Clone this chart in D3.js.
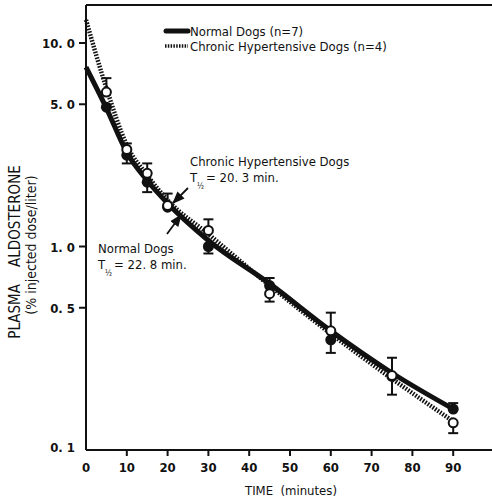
<!DOCTYPE html>
<html>
<head>
<meta charset="utf-8">
<script src="https://cdn.jsdelivr.net/npm/d3@7"></script>
<style>
  body { margin: 0; background: #fff; }
  text { font-family: "Liberation Sans Narrow", "DejaVu Sans Condensed", "Arial Narrow", sans-serif; fill: #111; }
</style>
</head>
<body>
<script>
// plasma aldosterone disappearance, normal vs chronic hypertensive dogs

const w = 492;
const h = 500;

const times = [5, 10, 15, 20, 30, 45, 60, 75, 90];

// mean values (% injected dose / liter)
const normalMeans = [4.84, 2.81, 2.07, 1.56, 1.0, 0.643, 0.348, 0.23, 0.159];
const hyperMeans  = [5.74, 3.0, 2.29, 1.59, 1.2, 0.586, 0.385, 0.232, 0.136];

// error bar ends (null = not drawn)
const normalErrHi = [null, null, null, null, null, 0.70, null, null, 0.17];
const normalErrLo = [null, 2.56, 1.85, null, 0.924, null, 0.30, null, null];
const hyperErrHi  = [6.72, 3.21, 2.56, 1.82, 1.36, null, 0.473, 0.284, null];
const hyperErrLo  = [null, null, null, null, null, 0.536, null, 0.187, 0.121];

// fitted curves
const curveTimes  = [0, 5, 10, 15, 20, 30, 45, 60, 75, 91];
const normalCurve = [7.62, 4.79, 2.90, 2.11, 1.63, 1.07, 0.657, 0.385, 0.239, 0.155];
const hyperCurve  = [13.0, 6.0, 3.15, 2.24, 1.69, 1.15, 0.643, 0.373, 0.224, 0.134];

const xTicks = [0, 10, 20, 30, 40, 50, 60, 70, 80, 90];
const yTicks = [10, 5, 1, 0.5, 0.1];
const yTickLabels = ["10. 0", "5. 0", "1. 0", "0. 5", "0. 1"];

const xScale = d3.scaleLinear()
    .domain([0, 100])
    .range([86, 494]);

const yScale = d3.scaleLog()
    .domain([0.1, 10])
    .range([450, 43]);

const svg = d3.select("body")
  .append("svg")
    .attr("width", w)
    .attr("height", h);

svg.append("rect")
    .attr("width", w)
    .attr("height", h)
    .attr("fill", "#fff");

// frame: left axis, top line, bottom axis
const x0 = xScale(0);
const yBottom = yScale(0.1);
const yTop = 5;

svg.append("line")
    .attr("x1", x0).attr("x2", x0)
    .attr("y1", yTop).attr("y2", yBottom)
    .attr("stroke", "#111").attr("stroke-width", 2);

svg.append("line")
    .attr("x1", x0).attr("x2", w)
    .attr("y1", yTop).attr("y2", yTop)
    .attr("stroke", "#111").attr("stroke-width", 2);

svg.append("line")
    .attr("x1", x0).attr("x2", w)
    .attr("y1", yBottom).attr("y2", yBottom)
    .attr("stroke", "#111").attr("stroke-width", 2);

// x ticks
const xt = svg.append("g").attr("class", "xAxis");
xt.selectAll("line")
    .data(xTicks.filter(d => d > 0))
  .enter().append("line")
    .attr("x1", d => xScale(d)).attr("x2", d => xScale(d))
    .attr("y1", yBottom).attr("y2", yBottom + 6)
    .attr("stroke", "#111").attr("stroke-width", 2);

xt.selectAll("text")
    .data(xTicks)
  .enter().append("text")
    .attr("x", d => xScale(d))
    .attr("y", 472)
    .attr("text-anchor", "middle")
    .attr("font-size", 13)
    .attr("font-weight", "bold")
    .text(d => d);

// y ticks
const yt = svg.append("g").attr("class", "yAxis");
yt.selectAll("line")
    .data(yTicks.filter(d => d > 0.1))
  .enter().append("line")
    .attr("x1", x0 - 7).attr("x2", x0)
    .attr("y1", d => yScale(d)).attr("y2", d => yScale(d))
    .attr("stroke", "#111").attr("stroke-width", 2);

yt.selectAll("text")
    .data(yTicks)
  .enter().append("text")
    .attr("x", x0 - 11)
    .attr("y", d => yScale(d) + (d === 0.1 ? 2 : 5))
    .attr("text-anchor", "end")
    .attr("font-size", 13)
    .attr("font-weight", "bold")
    .text((d, i) => yTickLabels[i]);

// axis titles
svg.append("text")
    .attr("x", 291)
    .attr("y", 495)
    .attr("text-anchor", "middle")
    .attr("font-size", 13)
    .attr("xml:space", "preserve")
    .text("TIME  (minutes)");

svg.append("text")
    .attr("transform", "translate(20, 252) rotate(-90)")
    .attr("text-anchor", "middle")
    .attr("font-size", 15)
    .attr("xml:space", "preserve")
    .text("PLASMA    ALDOSTERONE");

svg.append("text")
    .attr("transform", "translate(36, 245) rotate(-90)")
    .attr("text-anchor", "middle")
    .attr("font-size", 14)
    .text("(% injected dose/liter)");

// curves
const line = d3.line()
    .x((d, i) => xScale(curveTimes[i]))
    .y(d => yScale(d))
    .curve(d3.curveMonotoneX);

svg.append("path")
    .attr("d", line(hyperCurve))
    .attr("fill", "none")
    .attr("stroke", "#111")
    .attr("stroke-width", 4.5)
    .attr("stroke-dasharray", "1.6,1.4");

svg.append("path")
    .attr("d", line(normalCurve))
    .attr("fill", "none")
    .attr("stroke", "#111")
    .attr("stroke-width", 5);

// error bars
function errorBars(means, his, los) {
  const g = svg.append("g");
  times.forEach((t, i) => {
    const cx = xScale(t);
    [his[i], los[i]].forEach(v => {
      if (v === null) return;
      g.append("line")
          .attr("x1", cx).attr("x2", cx)
          .attr("y1", yScale(means[i])).attr("y2", yScale(v))
          .attr("stroke", "#111").attr("stroke-width", 2);
      g.append("line")
          .attr("x1", cx - 5).attr("x2", cx + 5)
          .attr("y1", yScale(v)).attr("y2", yScale(v))
          .attr("stroke", "#111").attr("stroke-width", 2);
    });
  });
}
errorBars(hyperMeans, hyperErrHi, hyperErrLo);
errorBars(normalMeans, normalErrHi, normalErrLo);

// points
svg.append("g").selectAll("circle")
    .data(normalMeans)
  .enter().append("circle")
    .attr("cx", (d, i) => xScale(times[i]))
    .attr("cy", d => yScale(d))
    .attr("r", 5.5)
    .attr("fill", "#111");

svg.append("g").selectAll("circle")
    .data(hyperMeans)
  .enter().append("circle")
    .attr("cx", (d, i) => xScale(times[i]))
    .attr("cy", d => yScale(d))
    .attr("r", 4.5)
    .attr("fill", "#fff")
    .attr("stroke", "#111")
    .attr("stroke-width", 2);

// legend
svg.append("line")
    .attr("x1", 166).attr("x2", 188)
    .attr("y1", 31).attr("y2", 31)
    .attr("stroke", "#111").attr("stroke-width", 5)
    .attr("stroke-linecap", "round");
svg.append("line")
    .attr("x1", 165).attr("x2", 188)
    .attr("y1", 46).attr("y2", 46)
    .attr("stroke", "#111").attr("stroke-width", 3.5)
    .attr("stroke-dasharray", "1.5,1.3");
svg.append("text")
    .attr("x", 190).attr("y", 35.5)
    .attr("font-size", 13)
    .text("Normal Dogs (n=7)");
svg.append("text")
    .attr("x", 190).attr("y", 50.5)
    .attr("font-size", 13)
    .text("Chronic Hypertensive Dogs (n=4)");

// annotations
function halfLife(x, y, rest) {
  svg.append("text").attr("x", x).attr("y", y).attr("font-size", 13).text("T");
  svg.append("text").attr("x", x + 7).attr("y", y + 7).attr("font-size", 8).text("½");
  svg.append("text").attr("x", x + 16).attr("y", y).attr("font-size", 13).text(rest);
}

svg.append("text")
    .attr("x", 190).attr("y", 166)
    .attr("font-size", 13)
    .text("Chronic Hypertensive Dogs");
halfLife(190, 182, "= 20. 3 min.");

svg.append("text")
    .attr("x", 98).attr("y", 253)
    .attr("font-size", 13)
    .text("Normal Dogs");
halfLife(98, 269, "= 22. 8 min.");

svg.append("defs").append("marker")
    .attr("id", "arrow")
    .attr("viewBox", "0 0 10 10")
    .attr("refX", 9).attr("refY", 5)
    .attr("markerWidth", 7).attr("markerHeight", 7)
    .attr("orient", "auto")
  .append("path")
    .attr("d", "M0,1 L10,5 L0,9 Z")
    .attr("fill", "#111");

svg.append("line")
    .attr("x1", 188).attr("y1", 188)
    .attr("x2", 173).attr("y2", 203)
    .attr("stroke", "#111").attr("stroke-width", 1.8)
    .attr("marker-end", "url(#arrow)");

svg.append("line")
    .attr("x1", 167).attr("y1", 234)
    .attr("x2", 181).attr("y2", 215)
    .attr("stroke", "#111").attr("stroke-width", 1.8)
    .attr("marker-end", "url(#arrow)");
</script>
</body>
</html>
